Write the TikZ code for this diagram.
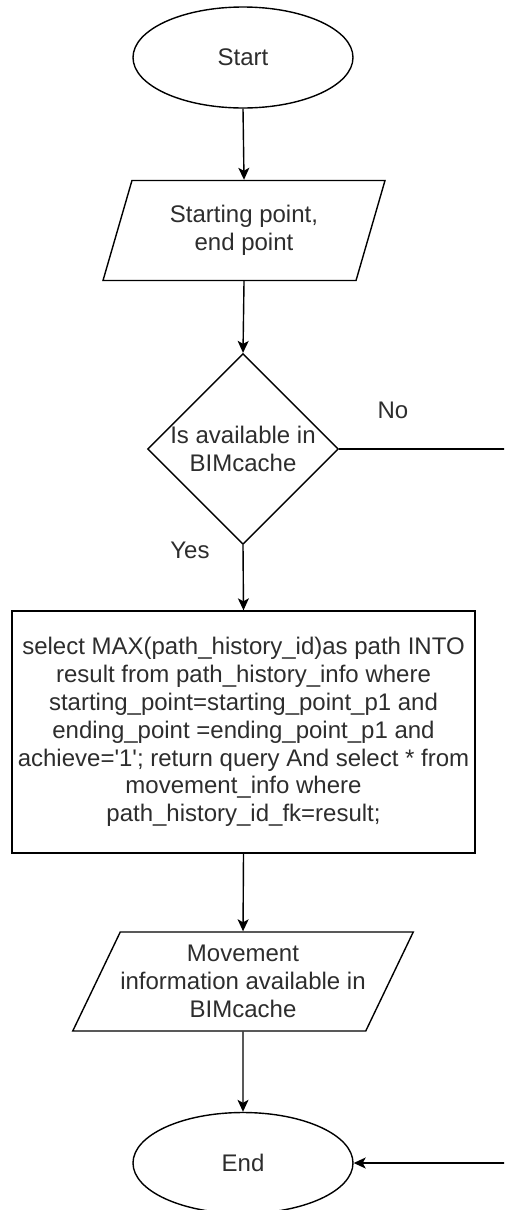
\documentclass[tikz,border=0pt]{standalone}
\usepackage{fontspec}
\setmainfont{Liberation Sans}
\usetikzlibrary{arrows.meta, shapes.geometric, positioning}
\definecolor{dgray}{RGB}{45,45,45}
\tikzset{
  % Terminal ellipse
  TE/.style={ellipse,draw=black,line width=1.4pt,inner sep=0pt,
             minimum width=220pt,minimum height=101pt,
             font=\fontsize{24}{27.8}\selectfont,text=dgray},
  % Input/output parallelogram
  IO/.style={trapezium,trapezium stretches body,draw=black,line width=1.4pt,
             inner sep=0pt,align=center,minimum height=#1,
             font=\fontsize{24}{27.8}\selectfont,text=dgray},
  IO/.default=100pt,
  % Decision diamond
  DC/.style={diamond,draw=black,line width=1.4pt,inner sep=0pt,align=center,
             minimum width=190pt,minimum height=158pt,
             font=\fontsize{24}{27.8}\selectfont,text=dgray},
  % Process box
  PB/.style={rectangle,draw=black,line width=1.4pt,inner sep=0pt,align=center,
             minimum width=463pt,minimum height=242pt,
             font=\fontsize{24}{27.8}\selectfont,text=dgray},
  % Edge label
  LB/.style={font=\fontsize{24}{27.8}\selectfont,text=dgray,inner sep=0pt},
  % Arrows
  Arr/.style={-{Stealth[length=12pt,width=11pt,inset=3pt]},line width=1.4pt},
}
\begin{document}
\begin{tikzpicture}[x=1pt,y=-1pt]
  \useasboundingbox (0,0) rectangle (504,1210);
  \clip (0,0) rectangle (504,1210);
  % Start
  \node[TE] at (243,57.5) (start) {Start};
  % Input points
  \node[IO,trapezium left angle=60,trapezium right angle=120,
        minimum width=282pt] at (244,230.5) (inp)
        {Starting point,\\ end point};
  \draw[Arr] (start.south) -- (inp.north);
  % Cache check
  \node[DC] at (243,449) (chk) {Is available in\\BIMcache};
  \draw[Arr] (inp.south) -- (chk.north);
  % Query box
  \node[PB] at (243.5,732) (qry)
        {select MAX(path\_history\_id)as path INTO\\
         result from path\_history\_info where\\
         starting\_point=starting\_point\_p1 and\\
         ending\_point =ending\_point\_p1 and\\
         achieve=\textquotesingle 1\textquotesingle; return query And select * from\\
         movement\_info where\\
         path\_history\_id\_fk=result;};
  \draw[Arr] (chk.south) -- (qry.north);
  \node[LB] at (190,550) (yes) {Yes};
  % Output movement info
  \node[IO=99pt,trapezium left angle=56.7,trapezium right angle=123.3,
        minimum width=330pt] at (243,981.5) (out)
        {Movement\\information available in\\BIMcache};
  \draw[Arr] (qry.south) -- (out.north);
  % End
  \node[TE] at (243,1163) (end) {End};
  \draw[Arr] (out.south) -- (end.north);
  % No branch, runs off the right edge
  \node[LB] at (393,410) (no) {No};
  \draw[Arr] (chk.east) -- ++(180,0) |- (end.east);
\end{tikzpicture}
\end{document}
